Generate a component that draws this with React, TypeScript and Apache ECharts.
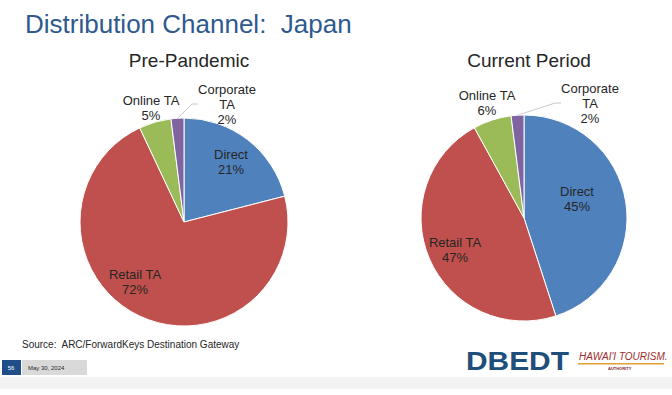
import React, { useEffect, useRef } from "react";
import * as echarts from "echarts";

const categories = ["Direct", "Retail TA", "Online TA", "Corporate TA"];
const labelNames = ["Direct", "Retail TA", "Online TA", "Corporate\nTA"];
const prePandemic = [21, 72, 5, 2];
const currentPeriod = [45, 47, 6, 2];
const colors = ["#4F81BD", "#C0504D", "#9BBB59", "#8064A2"];

// label anchor positions (layout only)
const leftLabelPos = [
  [231, 162],
  [135, 282],
  [151, 108],
  [227, 104],
];
const rightLabelPos = [
  [577, 199],
  [455, 250],
  [487, 103],
  [590, 103],
];

const font = "Liberation Sans, Arial, sans-serif";

function makeSeries(values: number[], center: number[], radius: number, pos: number[][]) {
  return {
    type: "pie",
    center,
    radius,
    startAngle: 90,
    clockwise: true,
    avoidLabelOverlap: false,
    itemStyle: { borderColor: "#ffffff", borderWidth: 1 },
    label: {
      show: true,
      position: "outside",
      formatter: (p: any) => labelNames[p.dataIndex] + "\n" + p.value + "%",
      color: "#262626",
      fontFamily: font,
      fontSize: 13,
      lineHeight: 15,
      align: "center",
    },
    labelLine: { show: false },
    labelLayout: (p: any) => ({
      x: pos[p.dataIndex][0],
      y: pos[p.dataIndex][1],
      align: "center",
      verticalAlign: "middle",
    }),
    emphasis: { disabled: true },
    data: values.map((v, i) => ({
      name: categories[i],
      value: v,
      itemStyle: { color: colors[i] },
      labelLine:
        i === 3
          ? { show: true, length: 14, length2: 6, lineStyle: { color: "#C8C8C8", width: 1 } }
          : { show: false },
    })),
  };
}

export default function App() {
  const ref = useRef<HTMLDivElement>(null);
  useEffect(() => {
    if (!ref.current) return;
    const chart = echarts.init(ref.current, null, { renderer: "svg" });
    chart.setOption({
      animation: false,
      backgroundColor: "#ffffff",
      title: [
        {
          text: "Distribution Channel:  Japan",
          left: 20,
          top: 6,
          textStyle: { fontFamily: font, fontSize: 26, fontWeight: "normal", color: "#2E5A8E" },
        },
        {
          text: "Pre-Pandemic",
          left: 184,
          top: 46,
          textAlign: "center",
          textStyle: { fontFamily: font, fontSize: 19, fontWeight: "normal", color: "#262626" },
        },
        {
          text: "Current Period",
          left: 524,
          top: 46,
          textAlign: "center",
          textStyle: { fontFamily: font, fontSize: 19, fontWeight: "normal", color: "#262626" },
        },
      ],
      series: [
        makeSeries(prePandemic, [184, 222], 104, leftLabelPos),
        makeSeries(currentPeriod, [524, 218], 103, rightLabelPos),
      ],
      graphic: [
        {
          type: "text",
          left: 22,
          top: 339,
          style: { text: "Source:  ARC/ForwardKeys Destination Gateway", font: "10px " + font, fill: "#262626" },
        },
        { type: "rect", shape: { x: 0, y: 377, width: 672, height: 12 }, style: { fill: "#F2F2F2" } },
        { type: "rect", shape: { x: 2, y: 360, width: 19, height: 15 }, style: { fill: "#1F4E89" } },
        {
          type: "text",
          x: 11,
          y: 367.5,
          style: { text: "56", font: "6px " + font, fill: "#ffffff", align: "center", verticalAlign: "middle" },
        },
        { type: "rect", shape: { x: 22, y: 360, width: 65, height: 15 }, style: { fill: "#D9D9D9" } },
        {
          type: "text",
          x: 28,
          y: 367.5,
          style: { text: "May 30, 2024", font: "6px " + font, fill: "#262626", verticalAlign: "middle" },
        },
        {
          type: "text",
          x: 466,
          y: 348,
          scaleX: 1.15,
          style: { text: "DBEDT", font: "bold 26px " + font, fill: "#1E4E79" },
        },
        {
          type: "text",
          x: 579,
          y: 351,
          style: { text: "HAWAI'I TOURISM.", font: "italic 10px " + font, fill: "#9B2C2C" },
        },
        { type: "rect", shape: { x: 578, y: 363, width: 86, height: 1.5 }, style: { fill: "#E0A030" } },
        {
          type: "text",
          x: 608,
          y: 366,
          style: { text: "AUTHORITY", font: "bold 4px " + font, fill: "#7A2A2A" },
        },
      ],
    });
    return () => chart.dispose();
  }, []);
  return (
    <div
      ref={ref}
      style={{ position: "fixed", left: 0, top: 0, width: 672, height: 395, background: "#fff" }}
    />
  );
}
